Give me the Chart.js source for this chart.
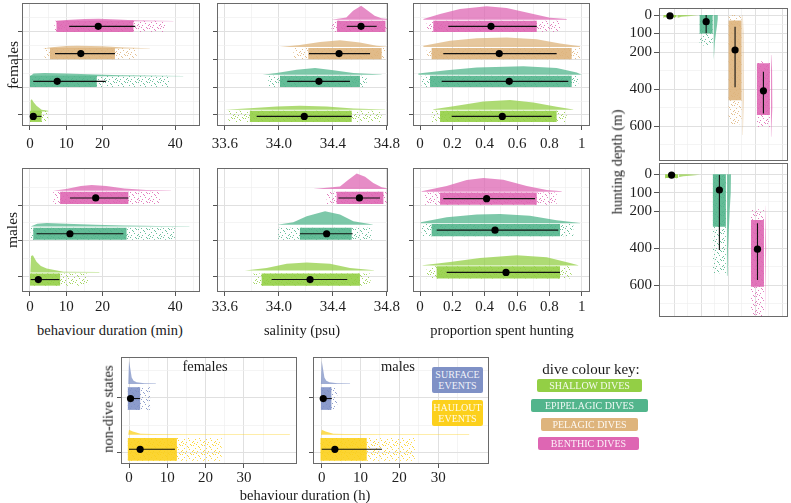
<!DOCTYPE html>
<html>
<head>
<meta charset="utf-8">
<script src="https://cdn.jsdelivr.net/npm/chart.js@4.4.1/dist/chart.umd.min.js"></script>
<style>
  html, body { margin: 0; padding: 0; background: #fff; }
  body { position: relative; width: 791px; height: 503px; overflow: hidden;
         font-family: "Liberation Serif", "DejaVu Serif", serif; color: #1a1a1a; }
  canvas { position: absolute; }
  .lbl { position: absolute; white-space: nowrap; line-height: 1; }
  .key { position: absolute; color: rgba(255,255,255,0.9); font-size: 10px; text-align: center;
         border-radius: 2px; display: flex; align-items: center; justify-content: center; line-height: 1.15; }
</style>
</head>
<body>
<script>
// group order in the dive panels: shallow, epipelagic, pelagic, benthic
const diveNames = ['SHALLOW DIVES', 'EPIPELAGIC DIVES', 'PELAGIC DIVES', 'BENTHIC DIVES'];
const diveCols = ['#93cf45', '#52b58c', '#deb47c', '#de66b3'];
const stateNames = ['SURFACE EVENTS', 'HAULOUT EVENTS'];
const stateCols = ['#7f91c6', '#fcd01c'];

// ---- females, behaviour duration (min)
const durF_mean = [0.9, 7.5, 14.0, 18.8];
const durF_sd = [[0.2, 3.2], [0.9, 20.9], [6.9, 23.4], [10.8, 29.0]];
const durF_core = [[0, 3.2], [0, 18.4], [5.5, 23.4], [7.3, 28.5]];
const durF_span = [[0, 5], [0, 38.3], [4, 29.4], [6.7, 37.2]];
const durF_densX = [[0.1, 0.2, 0.5, 1.0, 1.8, 3.2, 5.0], [0, 1, 4, 10, 18, 25, 35, 42.2],
                    [3.5, 6, 10, 13, 20, 26, 33], [6.7, 10, 15, 19, 24, 30, 39.5]];
const durF_densH = [[0, 0.4, 0.44, 0.33, 0.2, 0.06, 0.02], [0, 0.1, 0.12, 0.1, 0.07, 0.04, 0.02, 0.01],
                    [0, 0.05, 0.09, 0.1, 0.08, 0.04, 0.01], [0, 0.05, 0.08, 0.09, 0.07, 0.03, 0.01]];

// ---- females, salinity (psu)
const salF_mean = [34.188, 34.297, 34.446, 34.609];
const salF_sd = [[33.835, 34.54], [34.062, 34.527], [34.223, 34.676], [34.503, 34.725]];
const salF_core = [[33.785, 34.54], [34.008, 34.601], [34.218, 34.762], [34.43, 34.79]];
const salF_span = [[33.625, 34.762], [33.921, 34.651], [34.107, 34.787], [34.39, 34.8]];
const salF_densX = [[33.6, 33.785, 33.983, 34.156, 34.354, 34.552, 34.787],
                    [33.88, 33.983, 34.132, 34.268, 34.404, 34.552, 34.762],
                    [34.008, 34.156, 34.305, 34.453, 34.6, 34.725, 34.8],
                    [34.39, 34.5, 34.55, 34.61, 34.66, 34.71, 34.76, 34.81]];
const salF_densH = [[0, 0.05, 0.12, 0.14, 0.12, 0.04, 0.01], [0, 0.06, 0.18, 0.24, 0.16, 0.06, 0.01],
                    [0, 0.07, 0.18, 0.24, 0.16, 0.04, 0.01], [0, 0.08, 0.32, 0.5, 0.32, 0.14, 0.05, 0.02]];

// ---- females, proportion spent hunting
const propF_mean = [0.509, 0.552, 0.49, 0.439];
const propF_sd = [[0.196, 0.814], [0.134, 0.917], [0.144, 0.845], [0.175, 0.722]];
const propF_core = [[0.124, 0.845], [0.062, 0.938], [0.072, 0.938], [0.082, 0.722]];
const propF_span = [[0.072, 0.907], [0.01, 0.979], [0.041, 0.99], [0.041, 0.866]];
const propF_densX = [[0.082, 0.227, 0.392, 0.557, 0.701, 0.845, 0.948],
                     [-0.01, 0.165, 0.351, 0.639, 0.845, 0.969, 1.0],
                     [0.021, 0.186, 0.351, 0.536, 0.722, 0.866, 0.99],
                     [0.021, 0.124, 0.247, 0.412, 0.536, 0.701, 0.804, 0.907]];
const propF_densH = [[0.02, 0.14, 0.3, 0.35, 0.26, 0.11, 0.01], [0.04, 0.16, 0.26, 0.3, 0.24, 0.08, 0],
                     [0.04, 0.22, 0.31, 0.34, 0.28, 0.12, 0.02], [0.02, 0.2, 0.38, 0.48, 0.42, 0.2, 0.07, 0.02]];

// ---- males (shallow, epipelagic, benthic), behaviour duration (min)
const durM_mean = [2.3, 11.0, 18.1];
const durM_sd = [[0.2, 8.1], [1.8, 25.7], [11.0, 27.1]];
const durM_core = [[0, 8.3], [0.9, 26.6], [8.3, 27.1]];
const durM_span = [[0, 16], [0.2, 39.9], [6.4, 35.8]];
const durM_densX = [[0.1, 0.3, 0.8, 1.8, 3, 4.6, 9.2, 19.1], [0.2, 2, 4.6, 10, 18, 26, 35, 43.9],
                    [6.4, 10, 14, 17, 21, 26, 32, 38.8]];
const durM_densH = [[0, 0.46, 0.48, 0.3, 0.18, 0.11, 0.02, 0.01], [0, 0.08, 0.1, 0.08, 0.05, 0.03, 0.015, 0.01],
                    [0, 0.05, 0.13, 0.16, 0.13, 0.06, 0.02, 0.01]];

// ---- males, salinity (psu)
const salM_mean = [34.231, 34.354, 34.597];
const salM_sd = [[33.946, 34.507], [34.156, 34.547], [34.441, 34.75]];
const salM_core = [[33.872, 34.601], [34.156, 34.54], [34.428, 34.775]];
const salM_span = [[33.81, 34.68], [33.995, 34.688], [34.354, 34.8]];
const salM_densX = [[33.748, 33.909, 34.058, 34.206, 34.379, 34.527, 34.705],
                    [33.988, 34.107, 34.206, 34.342, 34.453, 34.552, 34.696],
                    [34.255, 34.453, 34.515, 34.577, 34.639, 34.7, 34.762, 34.804]];
const salM_densH = [[0, 0.07, 0.19, 0.23, 0.19, 0.07, 0.01], [0, 0.07, 0.24, 0.38, 0.29, 0.1, 0.01],
                    [0, 0.07, 0.26, 0.43, 0.34, 0.17, 0.05, 0.01]];

// ---- males, proportion spent hunting
const propM_mean = [0.532, 0.464, 0.412];
const propM_sd = [[0.165, 0.866], [0.103, 0.855], [0.144, 0.711]];
const propM_core = [[0.103, 0.866], [0.072, 0.866], [0.124, 0.722]];
const propM_span = [[0.041, 0.938], [0.01, 0.948], [0.031, 0.845]];
const propM_densX = [[0.016, 0.186, 0.371, 0.598, 0.784, 0.928, 0.979],
                     [0.004, 0.165, 0.351, 0.495, 0.68, 0.845, 0.99],
                     [0.01, 0.165, 0.289, 0.392, 0.515, 0.66, 0.784, 0.876]];
const propM_densH = [[0.01, 0.1, 0.21, 0.29, 0.23, 0.07, 0.01], [0.03, 0.17, 0.25, 0.26, 0.21, 0.09, 0.01],
                     [0.02, 0.16, 0.33, 0.39, 0.34, 0.16, 0.05, 0.02]];

// ---- hunting depth (m), females then males
const depF_mean = [5, 36, 189, 409];
const depF_sd = [[0, 10], [0, 99], [63, 390], [306, 531]];
const depF_core = [[0, 12], [0, 100], [30, 460], [260, 540]];
const depF_span = [[0, 15], [0, 165], [0, 590], [250, 605]];
const depF_densD = [[0, 3, 6, 10, 15], [0, 20, 60, 100, 150, 200, 243], [0, 100, 200, 300, 450, 648],
                    [216, 300, 400, 500, 600, 657]];
const depF_densW = [[0.3, 0.76, 0.5, 0.15, 0.02], [0.15, 0.15, 0.12, 0.08, 0.04, 0.02, 0],
                    [0.01, 0.03, 0.05, 0.04, 0.02, 0.01], [0.01, 0.04, 0.06, 0.04, 0.02, 0.01]];
const depM_mean = [4, 85, 406];
const depM_sd = [[0, 10], [4, 410], [266, 573]];
const depM_core = [[0, 20], [0, 284], [248, 609]];
const depM_span = [[0, 22], [0, 536], [190, 772]];
const depM_densD = [[0, 3, 6, 10, 15], [0, 100, 200, 300, 400, 550], [170, 300, 400, 500, 650, 772]];
const depM_densW = [[0.3, 0.77, 0.5, 0.15, 0.02], [0.15, 0.14, 0.1, 0.07, 0.04, 0.02],
                    [0.01, 0.03, 0.04, 0.03, 0.015, 0.01]];

// ---- non-dive states (surface, haulout), behaviour duration (h)
const ndF_mean = [0.4, 2.9];
const ndF_sd = [[0, 2.9], [0, 12.0]];
const ndF_core = [[-0.3, 2.9], [-0.3, 12.5]];
const ndF_span = [[-0.3, 5.5], [-0.3, 24.2]];
const ndF_densX = [[-0.2, 0, 0.3, 0.7, 1.2, 2, 4, 7], [-0.2, 0, 1, 3, 6, 15, 30, 42]];
const ndF_densH = [[0, 0.43, 0.3, 0.12, 0.06, 0.03, 0.015, 0.01], [0, 0.09, 0.06, 0.02, 0.012, 0.01, 0.008, 0.008]];
const ndM_mean = [0.4, 3.4];
const ndM_sd = [[0, 2.6], [0, 15.5]];
const ndM_core = [[-0.2, 2.5], [-0.3, 11.6]];
const ndM_span = [[-0.2, 4.0], [-0.3, 24]];
const ndM_densX = [[-0.2, 0, 0.3, 0.7, 1.2, 2, 4, 7.3], [-0.2, 0, 1, 3, 6, 15, 30, 38]];
const ndM_densH = [[0, 0.43, 0.3, 0.12, 0.06, 0.03, 0.015, 0.01], [0, 0.09, 0.06, 0.02, 0.012, 0.01, 0.008, 0.008]];

// axis breaks
const durTicks = [0, 10, 20, 40], durMinor = [5, 15, 30, 45];
const salTicks = [33.6, 34.0, 34.4, 34.8], salMinor = [33.8, 34.2, 34.6];
const propTicks = [0, 0.2, 0.4, 0.6, 0.8, 1], propMinor = [0.1, 0.3, 0.5, 0.7, 0.9];
const depTicks = [0, 100, 200, 400, 600], depMinor = [50, 150, 300, 500, 700];
const ndTicks = [0, 10, 20, 30], ndMinor = [5, 15, 25, 35];

// ---------------------------------------------------------------
Chart.defaults.font.family = '"Liberation Serif", "DejaVu Serif", serif';
Chart.defaults.font.size = 15;
Chart.defaults.color = '#1f1f1f';

function fade(hex, a) {
  const n = parseInt(hex.slice(1), 16);
  return `rgba(${n >> 16},${(n >> 8) & 255},${n & 255},${a})`;
}

// scattered-dot texture for the sparse part of each cloud
function speckle(hex) {
  const t = document.createElement('canvas');
  t.width = 11; t.height = 9;
  const g = t.getContext('2d');
  g.fillStyle = fade(hex, 0.85);
  [[0, 0], [5, 1], [9, 0], [2, 3], [7, 4], [10, 6], [4, 6], [1, 7], [8, 8], [6, 2], [3, 8], [0, 5]]
    .forEach(p => g.fillRect(p[0], p[1], 1, 1));
  return g.createPattern(t, 'repeat');
}

function axis(min, max, major, minor, o) {
  const all = major.concat(minor).sort((a, b) => a - b);
  const isMajor = v => major.includes(v);
  return {
    type: 'linear', min, max, reverse: !!o.reverse,
    afterBuildTicks: s => { s.ticks = all.map(v => ({ value: v })); },
    afterFit: s => {
      if (s.isHorizontal()) s.height = o.size; else s.width = o.size;
      s.paddingTop = s.paddingBottom = s.paddingLeft = s.paddingRight = 0;
    },
    grid: {
      color: c => isMajor(c.tick.value) ? '#e0e0e0' : '#efefef',
      lineWidth: c => isMajor(c.tick.value) ? 1 : 0.7,
      drawTicks: !!o.tick, tickLength: o.tick || 0, tickWidth: 1,
      tickColor: c => isMajor(c.tick.value) ? '#555' : 'rgba(0,0,0,0)'
    },
    border: { display: false },
    ticks: {
      display: !!o.fmt, autoSkip: false, maxRotation: 0, minRotation: 0, padding: o.pad || 0,
      callback: v => (o.fmt && isMajor(v)) ? o.fmt(v) : ''
    }
  };
}

const frame = {
  id: 'frame',
  afterDraw(chart) {
    const a = chart.chartArea, g = chart.ctx;
    g.save();
    g.strokeStyle = '#6a6a6a';
    g.lineWidth = 1;
    g.strokeRect(Math.round(a.left) + 0.5, Math.round(a.top) + 0.5,
                 Math.round(a.right - a.left) - 1, Math.round(a.bottom - a.top) - 1);
    g.restore();
  }
};

function shape(points, colour, order) {
  return { data: points, showLine: true, fill: 'shape', backgroundColor: colour,
           borderColor: 'rgba(0,0,0,0)', borderWidth: 0, pointRadius: 0, order };
}

// one raincloud per group: sparse dots, dense cloud, half density, sd line, mean dot
function raincloud(g, vertical) {
  const P = (v, c) => vertical ? { x: c, y: v } : { x: v, y: c };
  const out = [];
  g.rows.forEach((r, i) => {
    const col = g.cols[i];
    const band = rng => [P(rng[0], r - g.half), P(rng[1], r - g.half), P(rng[1], r + g.half), P(rng[0], r + g.half)];
    out.push(shape(band(g.span[i]), speckle(col), 6));
    out.push(shape(band(g.core[i]), fade(col, 0.9), 4));
    const dv = g.dens[i], dh = g.size[i], b = r + g.base;
    const curve = dv.map((v, j) => P(v, b + dh[j]));
    curve.push(P(dv[dv.length - 1], b), P(dv[0], b));
    out.push(shape(curve, fade(col, 0.75), 5));
    out.push({ data: [P(g.sd[i][0], r), P(g.sd[i][1], r)], showLine: true, borderColor: '#111',
               borderWidth: 1.1, pointRadius: 0, fill: false, order: 1 });
    out.push({ data: [P(g.mean[i], r)], pointRadius: 3.6, backgroundColor: '#000', borderWidth: 0, order: 0 });
  });
  return out;
}

function panel(box, xAxis, yAxis, datasets) {
  const padL = 10, padR = 18, padT = 2, padB = 2;
  const yW = yAxis.afterFitSize, xH = xAxis.afterFitSize;
  const left = box[0] - yW - padL, top = box[1] - padT;
  const w = box[2] - left + padR, h = box[3] - top + xH + padB;
  const c = document.createElement('canvas');
  c.width = w; c.height = h;
  c.style.left = left + 'px'; c.style.top = top + 'px';
  c.style.width = w + 'px'; c.style.height = h + 'px';
  document.body.appendChild(c);
  delete xAxis.afterFitSize; delete yAxis.afterFitSize;
  new Chart(c, {
    type: 'scatter',
    data: { datasets },
    options: {
      responsive: false, animation: false, events: [],
      layout: { autoPadding: false, padding: { left: padL, right: padR, top: padT, bottom: padB } },
      plugins: { legend: { display: false }, tooltip: { enabled: false } },
      scales: { x: xAxis, y: yAxis }
    },
    plugins: [frame]
  });
}

function ax(min, max, major, minor, o) {
  const a = axis(min, max, major, minor, o);
  a.afterFitSize = o.size;
  return a;
}

const num = v => String(v);
const sal = v => v.toFixed(1);

// layout of the rows inside each panel (category positions)
const rowsF = [0.95, 2.21, 3.21, 4.19];
const rowsM = [0.92, 2.2, 3.2];
const rowsMp = [1.12, 2.3, 3.18];
const colsF = [0.85, 2.19, 3.26, 4.31];
const colsM = [0.91, 2.68, 4.09];
const rowsND = [1.99, 1.05];
const maleCols = [diveCols[0], diveCols[1], diveCols[3]];

const yF = () => ax(0.604, 5.03, [1, 2, 3, 4], [1.5, 2.5, 3.5, 4.5], { size: 6, tick: 4 });
const yM = () => ax(0.573, 4.036, [1, 2, 3], [1.5, 2.5, 3.5], { size: 6, tick: 4 });

// row 1: females
panel([22, 3, 200, 126], ax(-2.2, 46.83, durTicks, durMinor, { size: 30, tick: 4, pad: 5, fmt: num }), yF(),
  raincloud({ rows: rowsF, cols: diveCols, mean: durF_mean, sd: durF_sd, core: durF_core, span: durF_span,
              dens: durF_densX, size: durF_densH, base: 0.18, half: 0.2 }));
panel([217, 3, 388, 126], ax(33.541, 34.809, salTicks, salMinor, { size: 30, tick: 4, pad: 5, fmt: sal }), yF(),
  raincloud({ rows: rowsF, cols: diveCols, mean: salF_mean, sd: salF_sd, core: salF_core, span: salF_span,
              dens: salF_densX, size: salF_densH, base: 0.24, half: 0.2 }));
panel([413, 3, 590, 126], ax(-0.0433, 1.0513, propTicks, propMinor, { size: 30, tick: 4, pad: 5, fmt: num }), yF(),
  raincloud({ rows: rowsF, cols: diveCols, mean: propF_mean, sd: propF_sd, core: propF_core, span: propF_span,
              dens: propF_densX, size: propF_densH, base: 0.24, half: 0.2 }));

// row 2: males
panel([22, 168, 200, 292], ax(-2.2, 46.83, durTicks, durMinor, { size: 27, tick: 4, pad: 2, fmt: num }), yM(),
  raincloud({ rows: rowsM, cols: maleCols, mean: durM_mean, sd: durM_sd, core: durM_core, span: durM_span,
              dens: durM_densX, size: durM_densH, base: 0.2, half: 0.17 }));
panel([217, 168, 388, 292], ax(33.541, 34.809, salTicks, salMinor, { size: 27, tick: 4, pad: 2, fmt: sal }), yM(),
  raincloud({ rows: rowsM, cols: maleCols, mean: salM_mean, sd: salM_sd, core: salM_core, span: salM_span,
              dens: salM_densX, size: salM_densH, base: 0.25, half: 0.17 }));
panel([413, 168, 590, 292], ax(-0.0433, 1.0513, propTicks, propMinor, { size: 27, tick: 4, pad: 2, fmt: num }), yM(),
  raincloud({ rows: rowsMp, cols: maleCols, mean: propM_mean, sd: propM_sd, core: propM_core, span: propM_span,
              dens: propM_densX, size: propM_densH, base: 0.19, half: 0.17 }));

// right: hunting depth
const xR = () => ax(0.444, 5.22, [1, 2, 3, 4, 5], [1.5, 2.5, 3.5, 4.5], { size: 0 });
panel([659, 8, 788, 161], xR(), ax(-37.8, 788, depTicks, depMinor, { size: 36, tick: 5, pad: 2, fmt: num, reverse: true }),
  raincloud({ rows: colsF, cols: diveCols, mean: depF_mean, sd: depF_sd, core: depF_core, span: depF_span,
              dens: depF_densD, size: depF_densW, base: 0.28, half: 0.24 }, true));
panel([659, 163, 788, 317], xR(), ax(-61.2, 773.4, depTicks, depMinor, { size: 36, tick: 5, pad: 2, fmt: num, reverse: true }),
  raincloud({ rows: colsM, cols: maleCols, mean: depM_mean, sd: depM_sd, core: depM_core, span: depM_span,
              dens: depM_densD, size: depM_densW, base: 0.28, half: 0.24 }, true));

// bottom: non-dive states
const yND = () => ax(0.778, 2.759, [1, 2], [1.5, 2.5], { size: 6, tick: 4 });
panel([121, 357, 297, 464], ax(-2.09, 43.86, ndTicks, ndMinor, { size: 26, tick: 4, pad: 1, fmt: num }), yND(),
  raincloud({ rows: rowsND, cols: stateCols, mean: ndF_mean, sd: ndF_sd, core: ndF_core, span: ndF_span,
              dens: ndF_densX, size: ndF_densH, base: 0.27, half: 0.21 }));
panel([313, 357, 489, 464], ax(-2.24, 43.1, ndTicks, ndMinor, { size: 26, tick: 4, pad: 1, fmt: num }), yND(),
  raincloud({ rows: rowsND, cols: stateCols, mean: ndM_mean, sd: ndM_sd, core: ndM_core, span: ndM_span,
              dens: ndM_densX, size: ndM_densH, base: 0.27, half: 0.21 }));

// ---- text
function label(text, x, y, size, rot) {
  const d = document.createElement('div');
  d.className = 'lbl';
  d.textContent = text;
  d.style.left = x + 'px'; d.style.top = y + 'px'; d.style.fontSize = size + 'px';
  d.style.transform = 'translate(-50%,-50%)' + (rot ? ' rotate(-90deg)' : '');
  document.body.appendChild(d);
}
label('females', 13, 65, 15.5, true);
label('males', 12, 230, 15.5, true);
label('behaviour duration (min)', 110, 330, 14.5);
label('salinity (psu)', 302, 330, 14.5);
label('proportion spent hunting', 502, 330, 14.5);
label('hunting depth (m)', 617, 162, 14.5, true);
label('non-dive states', 108, 409, 14.5, true);
label('behaviour duration (h)', 305, 495, 14.5);
label('females', 205, 366, 14.5);
label('males', 398, 366, 14.5);
label('dive colour key:', 591, 369, 15);

function keyBox(text, colour, x, y, w, h) {
  const d = document.createElement('div');
  d.className = 'key';
  d.innerHTML = text;
  Object.assign(d.style, { left: x + 'px', top: y + 'px', width: w + 'px', height: h + 'px', background: colour });
  document.body.appendChild(d);
}
const stateBoxes = [[432, 367], [432, 400]];
stateNames.forEach((n, i) => keyBox(n.replace(' ', '<br>'), stateCols[i], stateBoxes[i][0], stateBoxes[i][1], 51, 26));
const diveBoxes = [[537, 379, 105], [531, 399, 117], [541, 418, 97], [538, 437, 101]];
diveNames.forEach((n, i) => keyBox(n, diveCols[i], diveBoxes[i][0], diveBoxes[i][1], diveBoxes[i][2], 13));
</script>
</body>
</html>
